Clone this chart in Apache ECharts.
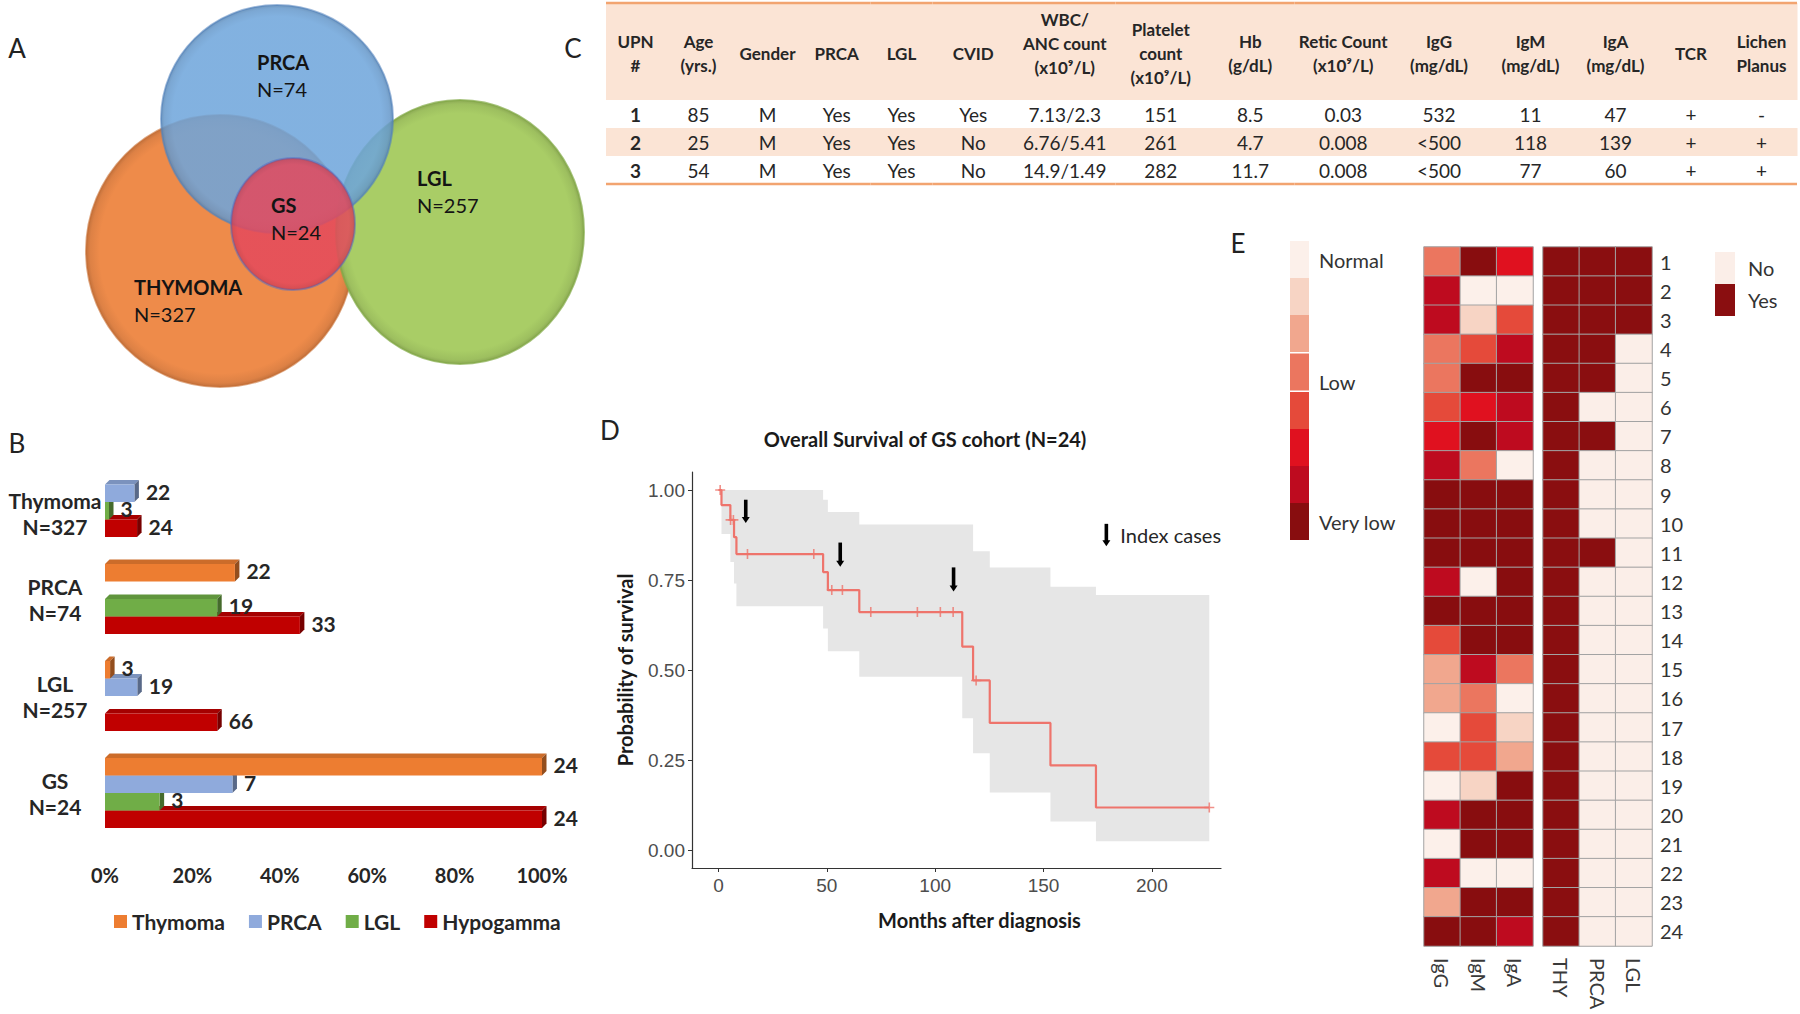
<!DOCTYPE html>
<html><head><meta charset="utf-8">
<script src="https://cdn.jsdelivr.net/npm/echarts@6/dist/echarts.min.js"></script>
<style>html,body{margin:0;padding:0;background:#fff}#c{width:1800px;height:1014px}</style>
</head><body><div id="c"></div>
<script>
// ================= DATA =================
// Panel A – Venn
const vennSets = ['THYMOMA', 'PRCA', 'LGL', 'GS'];
const vennN = [327, 74, 257, 24];

// Panel B – overlap percentages (counts / cohort size)
const barGroups = ['Thymoma', 'PRCA', 'LGL', 'GS'];
const barGroupN = [327, 74, 257, 24];
const barSeriesNames = ['Thymoma', 'PRCA', 'LGL', 'Hypogamma'];
const countThymoma = [null, 22, 3, 24];
const countPRCA = [22, null, 19, 7];
const countLGL = [3, 19, null, 3];
const countHypogamma = [24, 33, 66, 24];

// Panel C – table
const tableHeaders = ['UPN\n#', 'Age\n(yrs.)', 'Gender', 'PRCA', 'LGL', 'CVID', 'WBC/\nANC count\n(x10⁹/L)',
  'Platelet\ncount\n(x10⁹/L)', 'Hb\n(g/dL)', 'Retic Count\n(x10⁹/L)', 'IgG\n(mg/dL)', 'IgM\n(mg/dL)', 'IgA\n(mg/dL)', 'TCR', 'Lichen\nPlanus'];
const tableRow1 = ['1', '85', 'M', 'Yes', 'Yes', 'Yes', '7.13/2.3', '151', '8.5', '0.03', '532', '11', '47', '+', '-'];
const tableRow2 = ['2', '25', 'M', 'Yes', 'Yes', 'No', '6.76/5.41', '261', '4.7', '0.008', '<500', '118', '139', '+', '+'];
const tableRow3 = ['3', '54', 'M', 'Yes', 'Yes', 'No', '14.9/1.49', '282', '11.7', '0.008', '<500', '77', '60', '+', '+'];

// Panel D – Kaplan-Meier
const kmTime = [0, 1.4, 5.5, 7.2, 8.3, 48.3, 50.5, 65.0, 112.5, 117.5, 125.2, 153.2, 174.2, 226.5];
const kmSurv = [1.0, 0.958, 0.917, 0.869, 0.822, 0.772, 0.722, 0.661, 0.565, 0.471, 0.353, 0.235, 0.118, 0.118];
const censorTime = [0.8, 5.6, 6.9, 13.4, 44.0, 52.3, 57.2, 70.3, 91.8, 102.4, 108.3, 118.9, 226.5];
const censorSurv = [1.0, 0.917, 0.917, 0.822, 0.822, 0.722, 0.722, 0.661, 0.661, 0.661, 0.661, 0.471, 0.118];
const bandTime = [1.4, 5.5, 7.2, 8.3, 48.3, 50.5, 65.0, 112.5, 117.5, 125.2, 153.2, 174.2, 226.5];
const bandUpper = [1.0, 1.0, 1.0, 1.0, 0.973, 0.939, 0.904, 0.904, 0.830, 0.785, 0.731, 0.708, 0.708];
const bandLower = [0.878, 0.800, 0.740, 0.677, 0.615, 0.552, 0.481, 0.366, 0.269, 0.160, 0.079, 0.024, 0.024];
const indexCaseTime = [12.6, 56.2, 108.5];
const indexArrowTop = [0.973, 0.854, 0.785];
const indexArrowBottom = [0.908, 0.787, 0.718];
const kmXTicks = [0, 50, 100, 150, 200];
const kmYTicks = [0, 0.25, 0.5, 0.75, 1.0];

// Panel E – heatmap
const heatRows = ['1','2','3','4','5','6','7','8','9','10','11','12','13','14','15','16','17','18','19','20','21','22','23','24'];
const igCols = ['IgG', 'IgM', 'IgA'];
const igG = [3, 6, 6, 3, 3, 4, 5, 6, 7, 7, 7, 6, 7, 4, 2, 2, 0, 4, 0, 6, 0, 6, 2, 7];
const igM = [7, 0, 1, 4, 7, 5, 7, 3, 7, 7, 7, 0, 7, 7, 6, 3, 4, 4, 1, 7, 7, 0, 7, 7];
const igA = [5, 0, 4, 6, 7, 6, 6, 0, 7, 7, 7, 7, 7, 7, 3, 0, 1, 2, 7, 7, 7, 0, 7, 6];
const igLevelLabels = ['Normal', ' ', ' ', '\nLow', ' ', ' ', ' ', 'Very low'];
const featCols = ['THY', 'PRCA', 'LGL'];
const featTHY = [1,1,1,1,1,1,1,1,1,1,1,1,1,1,1,1,1,1,1,1,1,1,1,1];
const featPRCA = [1,1,1,1,1,0,1,0,0,0,1,0,0,0,0,0,0,0,0,0,0,0,0,0];
const featLGL = [1,1,1,0,0,0,0,0,0,0,0,0,0,0,0,0,0,0,0,0,0,0,0,0];
const yesNoLabels = ['No', 'Yes'];

// ================= STYLE / LAYOUT =================
const FONT = 'Lato, "Open Sans", "Noto Sans", sans-serif';
const NARROW = '"Liberation Sans Narrow", "Liberation Sans", Arial, sans-serif';
const TXT = '#262626';
const vennLayout = [ // cx, cy, rx, ry, labelX, labelY (panel px units)
  [220, 251, 134, 136, 134, 287],
  [277, 119, 116, 114, 257, 62],
  [460, 232, 124, 132, 417, 178],
  [293, 224, 62, 66, 271, 205]
];
const vennBase = [[238, 139, 74, 1], [110, 165, 219, 0.86], [169, 205, 102, 1], [228, 72, 92, 0.84]];
const vennStroke = ['rgba(200,110,50,0.6)', 'rgba(80,130,190,0.55)', 'rgba(130,170,70,0.7)', 'rgba(80,110,200,0.5)'];
const vennZ = [1, 3, 2, 4];
const barColors = ['#ED7D31', '#8FAADC', '#70AD47', '#C00000'];
const barLabelLead = [22, 0, 0, 0]; // extra leading above first category label
const tableColWidths = [59, 67, 71, 67.5, 62, 81.5, 101.5, 90.5, 88.5, 97.5, 94, 89, 81, 70, 71];
const tableRowEdges = [0, 97, 125, 153, 181];
const tableHeaderDy = [0, 0, 0, 0, 0, 0, -10, 0, 0, 0, 0, 0, 0, 0, 0];
const igColors = ['#FCF0EA', '#F7D4C4', '#F1A78E', '#EB765F', '#E54A3A', '#E0111F', '#BE0B1F', '#880D0F'];
const yesNoColors = ['#FBEEE8', '#8A0E10'];
const kmColor = '#EE746C';

function shade(hex, f) {
  const n = parseInt(hex.slice(1), 16);
  const r = Math.round(((n >> 16) & 255) * f), g = Math.round(((n >> 8) & 255) * f), b = Math.round((n & 255) * f);
  return 'rgb(' + r + ',' + g + ',' + b + ')';
}
function rgba(c, f) {
  return 'rgba(' + Math.round(c[0] * f) + ',' + Math.round(c[1] * f) + ',' + Math.round(c[2] * f) + ',' + c[3] + ')';
}

const chart = echarts.init(document.getElementById('c'), null, {renderer: 'svg', width: 1800, height: 1014});

const hiddenAxis = (min, max, gi, inverse) => ({type: 'value', gridIndex: gi, min, max, show: false, inverse: !!inverse});

// ---- Panel A series
const vennSeries = {
  type: 'custom', xAxisIndex: 0, yAxisIndex: 0, clip: false,
  data: vennSets.map((s, i) => [vennLayout[i][0], vennLayout[i][1], i]),
  renderItem(params, api) {
    const i = api.value(2);
    const L = vennLayout[i];
    const c = api.coord([L[0], L[1]]);
    const sz = api.size([L[2], L[3]]);
    const lp = api.coord([L[4], L[5]]);
    const b = vennBase[i];
    const fill = new echarts.graphic.RadialGradient(0.5, 0.5, 0.5, [
      {offset: 0, color: rgba(b, 1)}, {offset: 0.9, color: rgba(b, 1)}, {offset: 0.97, color: rgba(b, 0.93)}, {offset: 1, color: rgba(b, 0.82)}]);
    return {type: 'group', children: [
      {type: 'ellipse', z2: vennZ[i], shape: {cx: c[0], cy: c[1], rx: Math.abs(sz[0]), ry: Math.abs(sz[1])},
        style: {fill: fill, stroke: vennStroke[i], lineWidth: 2}},
      {type: 'text', z2: 20, x: lp[0], y: lp[1], style: {text: vennSets[i], fontSize: 20, fontWeight: 'bold', fontFamily: FONT, fill: '#141414', align: 'left', verticalAlign: 'middle'}},
      {type: 'text', z2: 20, x: lp[0], y: lp[1] + 27, style: {text: 'N=' + vennN[i], fontSize: 20, fontFamily: FONT, fill: '#141414', align: 'left', verticalAlign: 'middle'}}
    ]};
  }
};

// ---- Panel B series (3D-like bars)
const barCounts = [countThymoma, countPRCA, countLGL, countHypogamma];
const barSeries = barCounts.map((counts, s) => ({
  type: 'custom', name: barSeriesNames[s], xAxisIndex: 1, yAxisIndex: 1, z: 10 - s,
  itemStyle: {color: barColors[s]},
  data: counts.map((c, gi) => c == null ? null : [c / barGroupN[gi] * 100, gi, c]).filter(d => d),
  renderItem(params, api) {
    const val = api.value(0), gi = api.value(1), cnt = api.value(2);
    const base = api.coord([0, gi]);
    const end = api.coord([val, gi]);
    const band = api.size([0, 1])[1];
    const h = band * 0.722 / 4;
    const y0 = base[1] - 2 * h + s * h;
    const x0 = base[0], x1 = end[0], d = 4.5;
    const col = barColors[s];
    return {type: 'group', children: [
      {type: 'polygon', shape: {points: [[x0, y0], [x0 + d, y0 - d], [x1 + d, y0 - d], [x1, y0]]}, style: {fill: shade(col, 0.86)}},
      {type: 'polygon', shape: {points: [[x1, y0], [x1 + d, y0 - d], [x1 + d, y0 + h - d], [x1, y0 + h]]}, style: {fill: shade(col, 0.62)}},
      {type: 'rect', shape: {x: x0, y: y0, width: x1 - x0, height: h}, style: {fill: col}},
      {type: 'text', x: x1 + d + 7, y: y0 + h / 2 - 2, style: {text: String(cnt), fontSize: 21, fontWeight: 'bold', fontFamily: FONT, fill: TXT, align: 'left', verticalAlign: 'middle'}}
    ]};
  }
}));

// ---- Panel C table series
const tableColEdges = tableColWidths.reduce((a, w) => (a.push(a[a.length - 1] + w), a), [0]);
const tableAllRows = [tableHeaders, tableRow1, tableRow2, tableRow3];
const tableData = [];
tableAllRows.forEach((row, r) => row.forEach((t, c) => tableData.push([c, r])));
const tableSeries = {
  type: 'custom', xAxisIndex: 2, yAxisIndex: 2, clip: false, data: tableData,
  renderItem(params, api) {
    const c = api.value(0), r = api.value(1);
    const tl = api.coord([tableColEdges[c], tableRowEdges[r]]);
    const br = api.coord([tableColEdges[c + 1], tableRowEdges[r + 1]]);
    const children = [];
    if (r === 0 || r === 2) children.push({type: 'rect', shape: {x: tl[0], y: tl[1], width: br[0] - tl[0] + 0.5, height: br[1] - tl[1]}, style: {fill: '#FBE4D5'}});
    if (r === 0) children.push({type: 'line', shape: {x1: tl[0], y1: tl[1], x2: br[0], y2: tl[1]}, style: {stroke: '#F2A470', lineWidth: 2.5}});
    if (r === 3) children.push({type: 'line', shape: {x1: tl[0], y1: br[1], x2: br[0], y2: br[1]}, style: {stroke: '#F2A470', lineWidth: 2.5}});
    const head = r === 0;
    const bold = head || c === 0;
    children.push({type: 'text', x: (tl[0] + br[0]) / 2, y: (tl[1] + br[1]) / 2 + (head ? 2 + tableHeaderDy[c] : 0), style: {
      text: tableAllRows[r][c], fontSize: head ? 17 : 19, fontWeight: bold ? 'bold' : 'normal', lineHeight: 24,
      fontFamily: FONT, fill: TXT, align: 'center', verticalAlign: 'middle'}});
    return {type: 'group', children};
  }
};

// ---- Panel D series
const kmBandSeries = {
  type: 'custom', xAxisIndex: 3, yAxisIndex: 3, z: 1, data: [[bandTime[0], bandUpper[0]]],
  renderItem(params, api) {
    const pts = [];
    const n = bandTime.length;
    for (let i = 0; i < n; i++) {
      pts.push(api.coord([bandTime[i], bandUpper[i]]));
      if (i < n - 1) pts.push(api.coord([bandTime[i + 1], bandUpper[i]]));
    }
    for (let i = n - 1; i >= 0; i--) {
      if (i < n - 1) pts.push(api.coord([bandTime[i + 1], bandLower[i]]));
      pts.push(api.coord([bandTime[i], bandLower[i]]));
    }
    return {type: 'polygon', shape: {points: pts}, style: {fill: '#E6E6E6'}};
  }
};
const kmLineSeries = {
  type: 'line', xAxisIndex: 3, yAxisIndex: 3, step: 'end', showSymbol: false, z: 3,
  data: kmTime.map((t, i) => [t, kmSurv[i]]),
  lineStyle: {color: kmColor, width: 2.2}, itemStyle: {color: kmColor}
};
const kmCensorSeries = {
  type: 'scatter', xAxisIndex: 3, yAxisIndex: 3, z: 4,
  symbol: 'path://M4.2,0H5.8V4.2H10V5.8H5.8V10H4.2V5.8H0V4.2H4.2Z', symbolSize: 10,
  itemStyle: {color: kmColor}, data: censorTime.map((t, i) => [t, censorSurv[i]])
};
function arrowItem(api, t, top, bot) {
  const a = api.coord([t, top]), b = api.coord([t, bot]);
  return [
    {type: 'rect', shape: {x: a[0] - 1.8, y: a[1], width: 3.6, height: b[1] - a[1] - 5}, style: {fill: '#000'}},
    {type: 'polygon', shape: {points: [[b[0] - 4, b[1] - 6], [b[0] + 4, b[1] - 6], [b[0], b[1]]]}, style: {fill: '#000'}}
  ];
}
const kmArrowSeries = {
  type: 'custom', xAxisIndex: 3, yAxisIndex: 3, z: 5,
  data: indexCaseTime.map((t, i) => [t, indexArrowTop[i], indexArrowBottom[i]]),
  renderItem(params, api) {
    return {type: 'group', children: arrowItem(api, api.value(0), api.value(1), api.value(2))};
  }
};
const kmArrowLegend = {
  type: 'custom', xAxisIndex: 3, yAxisIndex: 3, z: 5,
  data: [[179, 0.906, 0.844]],
  renderItem(params, api) {
    const ch = arrowItem(api, api.value(0), api.value(1), api.value(2));
    const p = api.coord([api.value(0), (api.value(1) + api.value(2)) / 2]);
    ch.push({type: 'text', x: p[0] + 14, y: p[1], style: {text: 'Index cases', fontSize: 20, fontFamily: FONT, fill: TXT, align: 'left', verticalAlign: 'middle'}});
    return {type: 'group', children: ch};
  }
};

// ---- Panel E series
const igData = [];
[igG, igM, igA].forEach((arr, c) => arr.forEach((v, r) => igData.push([c, r, v])));
const featData = [];
[featTHY, featPRCA, featLGL].forEach((arr, c) => arr.forEach((v, r) => featData.push([c, r, v])));
const heatIgSeries = {type: 'heatmap', xAxisIndex: 4, yAxisIndex: 4, data: igData,
  itemStyle: {borderColor: '#A3A3A3', borderWidth: 1}, emphasis: {disabled: true}};
const heatFeatSeries = {type: 'heatmap', xAxisIndex: 5, yAxisIndex: 5, data: featData,
  itemStyle: {borderColor: '#A3A3A3', borderWidth: 1}, emphasis: {disabled: true}};

const heatXAxis = (gi, data) => ({type: 'category', gridIndex: gi, data, position: 'bottom',
  axisLine: {show: false}, axisTick: {show: false}, splitLine: {show: false},
  axisLabel: {rotate: -90, margin: 12, fontSize: 20, color: '#3A3A3A', fontFamily: FONT}});

const option = {
  animation: false,
  backgroundColor: '#fff',
  textStyle: {fontFamily: FONT},
  title: [{text: 'Overall Survival of GS cohort (N=24)', left: 920, top: 424, textAlign: 'center',
    textStyle: {fontSize: 20, fontWeight: 'bold', color: '#1a1a1a', fontFamily: FONT}}],
  graphic: [
    {type: 'text', x: 17, y: 48, style: {text: 'A', fontSize: 26, fill: '#222', fontFamily: FONT, align: 'center', verticalAlign: 'middle'}},
    {type: 'text', x: 17, y: 443, style: {text: 'B', fontSize: 26, fill: '#222', fontFamily: FONT, align: 'center', verticalAlign: 'middle'}},
    {type: 'text', x: 573, y: 48, style: {text: 'C', fontSize: 26, fill: '#222', fontFamily: FONT, align: 'center', verticalAlign: 'middle'}},
    {type: 'text', x: 610, y: 430, style: {text: 'D', fontSize: 26, fill: '#222', fontFamily: FONT, align: 'center', verticalAlign: 'middle'}},
    {type: 'text', x: 1238, y: 243, style: {text: 'E', fontSize: 26, fill: '#222', fontFamily: FONT, align: 'center', verticalAlign: 'middle'}}
  ],
  legend: [{data: barSeriesNames, left: 114, top: 911, padding: 0, itemWidth: 13, itemHeight: 13, itemGap: 24, icon: 'rect',
    selectedMode: false, textStyle: {fontSize: 21, fontWeight: 'bold', color: TXT, fontFamily: FONT}}],
  grid: [
    {left: 0, top: 0, width: 600, height: 400},
    {left: 105, top: 453.5, width: 437, height: 388},
    {left: 606, top: 3, width: 1191, height: 181},
    {left: 692, top: 472, width: 529, height: 396},
    {left: 1424, top: 247, width: 109, height: 699},
    {left: 1543, top: 247, width: 109, height: 699}
  ],
  xAxis: [
    hiddenAxis(0, 600, 0),
    {type: 'value', gridIndex: 1, min: 0, max: 100, interval: 20, axisLine: {show: false}, axisTick: {show: false}, splitLine: {show: false},
      axisLabel: {formatter: '{value}%', fontSize: 20, fontWeight: 'bold', color: TXT, margin: 23, fontFamily: FONT}},
    hiddenAxis(0, 1191, 2),
    {type: 'value', gridIndex: 3, min: -12.2, max: 231.9, splitLine: {show: false},
      axisLine: {onZero: false, lineStyle: {color: '#333', width: 1.2}},
      axisTick: {customValues: kmXTicks, length: 4, lineStyle: {color: '#333'}},
      axisLabel: {customValues: kmXTicks, fontSize: 19, color: '#4D4D4D', margin: 8, fontFamily: NARROW},
      name: 'Months after diagnosis', nameLocation: 'middle', nameGap: 42, nameMoveOverlap: false,
      nameTextStyle: {fontSize: 20, fontWeight: 'bold', color: '#1a1a1a', fontFamily: FONT, padding: [0, 0, 0, 46]}},
    heatXAxis(4, igCols),
    heatXAxis(5, featCols)
  ],
  yAxis: [
    hiddenAxis(0, 400, 0, true),
    {type: 'category', gridIndex: 1, data: barGroups, inverse: true, axisLine: {show: false}, axisTick: {show: false},
      axisLabel: {formatter: (v, i) => (barLabelLead[i] ? '{lead| }\n' : '') + v + '\nN=' + barGroupN[i],
        rich: {lead: {fontSize: 2, lineHeight: barLabelLead[0]}},
        fontSize: 21, fontWeight: 'bold', lineHeight: 26,
        align: 'center', margin: 50, color: TXT, fontFamily: FONT}},
    hiddenAxis(0, 181, 2, true),
    {type: 'value', gridIndex: 3, min: -0.05, max: 1.05, splitLine: {show: false},
      axisLine: {show: true, onZero: false, lineStyle: {color: '#333', width: 1.2}},
      axisTick: {show: true, customValues: kmYTicks, length: 4, lineStyle: {color: '#333'}},
      axisLabel: {customValues: kmYTicks, formatter: v => v.toFixed(2), fontSize: 19, color: '#4D4D4D', margin: 7, fontFamily: NARROW},
      name: 'Probability of survival', nameLocation: 'middle', nameGap: 57, nameMoveOverlap: false,
      nameTextStyle: {fontSize: 20, fontWeight: 'bold', color: '#1a1a1a', fontFamily: FONT}},
    {type: 'category', gridIndex: 4, data: heatRows, inverse: true, show: false},
    {type: 'category', gridIndex: 5, data: heatRows, inverse: true, position: 'right',
      axisLine: {show: false}, axisTick: {show: false}, splitLine: {show: false},
      axisLabel: {margin: 8, fontSize: 20, color: '#333', fontFamily: FONT}}
  ],
  visualMap: [
    {type: 'piecewise', seriesIndex: 11, dimension: 2, orient: 'vertical', inverse: true, align: 'left', left: 1290, top: 241, padding: 0,
      itemWidth: 19, itemHeight: 37, itemGap: 0, itemSymbol: 'rect', textGap: 10, selectedMode: false, hoverLink: false,
      pieces: igColors.map((c, i) => ({value: i, label: igLevelLabels[i], color: c})),
      textStyle: {fontSize: 20, color: '#333', fontFamily: FONT}},
    {type: 'piecewise', seriesIndex: 12, dimension: 2, orient: 'vertical', inverse: true, align: 'left', left: 1715, top: 252, padding: 0,
      itemWidth: 20, itemHeight: 32, itemGap: 0, itemSymbol: 'rect', textGap: 13, selectedMode: false, hoverLink: false,
      pieces: yesNoColors.map((c, i) => ({value: i, label: yesNoLabels[i], color: c})),
      textStyle: {fontSize: 20, color: '#333', fontFamily: FONT}}
  ],
  series: [vennSeries, ...barSeries, tableSeries, kmBandSeries, kmLineSeries, kmCensorSeries, kmArrowSeries, kmArrowLegend, heatIgSeries, heatFeatSeries]
};
chart.setOption(option);
</script></body></html>
